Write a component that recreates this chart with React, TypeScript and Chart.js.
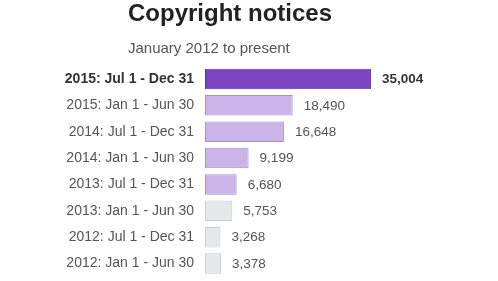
import React, { useEffect, useRef } from "react";
import { Chart, registerables } from "chart.js";

Chart.register(...registerables);

const categories = [
  "2015: Jul 1 - Dec 31",
  "2015: Jan 1 - Jun 30",
  "2014: Jul 1 - Dec 31",
  "2014: Jan 1 - Jun 30",
  "2013: Jul 1 - Dec 31",
  "2013: Jan 1 - Jun 30",
  "2012: Jul 1 - Dec 31",
  "2012: Jan 1 - Jun 30",
];
const notices = [35004, 18490, 16648, 9199, 6680, 5753, 3268, 3378];
const fillColors = ["#7a45c1", "#cbb5e8", "#cbb5e8", "#cbb5e8", "#cbb5e8", "#e4e8eb", "#e4e8eb", "#e4e8eb"];
const borderColors = ["#5d3496", "#a98fcc", "#a98fcc", "#a98fcc", "#a98fcc", "#c9ced3", "#c9ced3", "#c9ced3"];
const xMax = 61800;
const titleText = "Copyright notices";
const subtitleText = "January 2012 to present";

const FONT = "'Liberation Sans', Arial, Helvetica, sans-serif";

const headings = {
  id: "headings",
  afterDraw(chart: any) {
    const ctx = chart.ctx;
    ctx.save();
    ctx.textAlign = "left";
    ctx.textBaseline = "alphabetic";
    ctx.fillStyle = "#222222";
    ctx.font = `bold 24px ${FONT}`;
    ctx.fillText(titleText, 128, 20.5);
    ctx.fillStyle = "#555555";
    ctx.font = `15px ${FONT}`;
    ctx.fillText(subtitleText, 128, 53);
    ctx.restore();
  },
};

const valueLabels = {
  id: "valueLabels",
  afterDatasetsDraw(chart: any) {
    const ctx = chart.ctx;
    const meta = chart.getDatasetMeta(0);
    ctx.save();
    ctx.textBaseline = "middle";
    ctx.textAlign = "left";
    meta.data.forEach((bar: any, i: number) => {
      const v = notices[i];
      ctx.font = `${i === 0 ? "bold " : ""}13.5px ${FONT}`;
      ctx.fillStyle = i === 0 ? "#333333" : "#555555";
      ctx.fillText(v.toLocaleString("en-US"), bar.x + 11, bar.y + 0.5);
    });
    ctx.restore();
  },
};

export default function App() {
  const ref = useRef<HTMLCanvasElement>(null);
  useEffect(() => {
    if (!ref.current) return;
    const chart = new Chart(ref.current, {
      type: "bar",
      data: {
        labels: categories,
        datasets: [
          {
            data: notices,
            backgroundColor: fillColors,
            borderColor: borderColors,
            borderWidth: 1,
            borderSkipped: false,
            categoryPercentage: 0.8,
            barPercentage: 0.97,
          },
        ],
      },
      options: {
        indexAxis: "y",
        animation: false,
        responsive: false,
        devicePixelRatio: 1,
        layout: { padding: { left: 0, right: 0, top: 65.8, bottom: 4.3 } },
        plugins: {
          legend: { display: false },
          tooltip: { enabled: false },
          title: { display: false },
          subtitle: { display: false },
        },
        scales: {
          x: { display: false, min: 0, max: xMax },
          y: {
            position: "left",
            grid: { display: false, drawTicks: false },
            border: { display: false },
            afterFit: (scale: any) => {
              scale.width = 205;
              scale.paddingTop = 0;
              scale.paddingBottom = 0;
            },
            ticks: {
              padding: 11,
              font: (c: any) => ({
                family: FONT,
                size: 14,
                weight: c.index === 0 ? "bold" : "normal",
              }),
              color: (c: any) => (c.index === 0 ? "#333333" : "#555555"),
            },
          },
        },
      },
      plugins: [valueLabels, headings],
    });
    return () => chart.destroy();
  }, []);
  return (
    <div style={{ position: "fixed", left: 0, top: 0, width: 498, height: 281, background: "#ffffff" }}>
      <canvas ref={ref} width={498} height={281} style={{ display: "block" }} />
    </div>
  );
}
